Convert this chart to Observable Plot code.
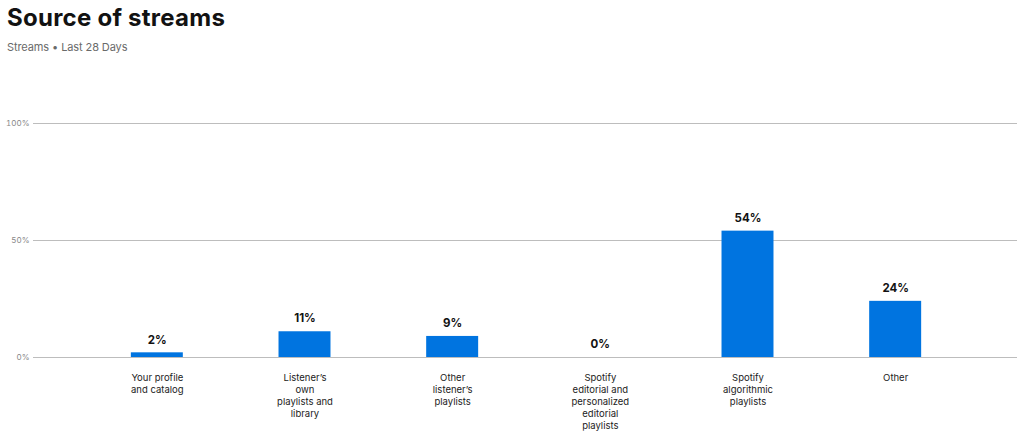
<!DOCTYPE html>
<html><head><meta charset="utf-8">
<script src="https://cdn.jsdelivr.net/npm/d3@7"></script>
<script src="https://cdn.jsdelivr.net/npm/@observablehq/plot@0.6"></script>
<style>
body{margin:0;background:#fff;font-family:Inter,sans-serif}
#header{position:relative;height:70px}
#title{position:absolute;left:7px;top:3px;font-size:24px;font-weight:700;color:#121212;letter-spacing:0.25px;line-height:30px;white-space:nowrap}
#subtitle{position:absolute;left:7px;top:39px;font-size:11px;color:#6a6a6a;line-height:16px;letter-spacing:-0.1px;white-space:nowrap}
#chart svg{display:block}
</style></head><body>
<div id="header"><div id="title">Source of streams</div><div id="subtitle">Streams • Last 28 Days</div></div>
<div id="chart"></div>
<script>
const categories = ["Your profile and catalog", "Listener’s own playlists and library", "Other listener’s playlists", "Spotify editorial and personalized editorial playlists", "Spotify algorithmic playlists", "Other"];
const shares = [2, 11, 9, 0, 54, 24];
const tickLabels = ["Your profile\nand catalog", "Listener’s\nown\nplaylists and\nlibrary", "Other\nlistener’s\nplaylists", "Spotify\neditorial and\npersonalized\neditorial\nplaylists", "Spotify\nalgorithmic\nplaylists", "Other"];
const yTicks = [0, 50, 100];
const data = categories.map((c, i) => ({category: c, share: shares[i]}));
const chart = Plot.plot({
  width: 1024, height: 363, marginTop: 53, marginBottom: 76, marginLeft: 33, marginRight: 7,
  style: {fontFamily: "Inter, sans-serif", background: "#fff", overflow: "visible"},
  x: {domain: categories, insetLeft: 50, insetRight: 48, paddingInner: 0.648, paddingOuter: 0.324, round: false},
  y: {domain: [0, 100]},
  marks: [
    Plot.ruleY(yTicks, {stroke: "#bdbdbd", strokeWidth: 1}),
    Plot.axisY(yTicks, {tickSize: 0, tickPadding: 4, tickFormat: d => d + "%", fontSize: 8, fill: "#888", label: null}),
    Plot.barY(data, {x: "category", y: "share", fill: "#0074e0"}),
    Plot.text(data, {x: "category", y: "share", text: d => d.share + "%", dy: -13, fontWeight: 700, fontSize: 11.5, fill: "#121212"}),
    Plot.axisX({tickSize: 0, tickPadding: 15, tickFormat: d => tickLabels[categories.indexOf(d)], fontSize: 9.5, lineHeight: 1.26, fill: "#222", label: null})
  ]
});
document.getElementById("chart").append(chart);
</script>
</body></html>
